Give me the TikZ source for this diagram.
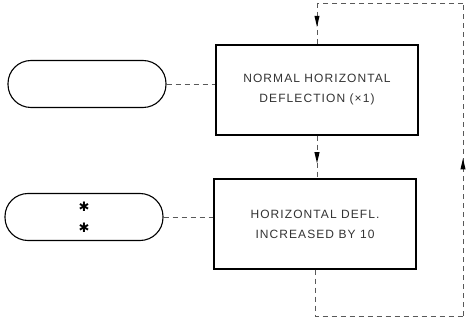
\documentclass[tikz,border=0pt]{standalone}
\usepackage{fontspec}
\newfontfamily\boxfont[LetterSpace=9]{Liberation Sans}
\newfontfamily\starfont{DejaVu Sans}
\usetikzlibrary{arrows.meta,decorations.markings}

\begin{document}
\begin{tikzpicture}[x=1pt,y=-1pt,
  modebox/.style={draw,line width=1.1pt,minimum width=202pt,minimum height=90pt,align=center,text=black!80,font=\boxfont\fontsize{12}{20}\selectfont},
  pill/.style={draw,line width=1.1pt,minimum width=158pt,minimum height=47pt,rounded corners=23pt,align=center,font=\starfont\fontsize{13}{21}\selectfont},
  link/.style={dashed,dash pattern=on 5pt off 4pt,line width=0.6pt,black!65},
  flow/.style={postaction={decorate},decoration={markings,mark=at position #1 with {\fill[black] (1pt,0pt) -- (-10pt,2.6pt) -- (-10pt,-2.6pt) -- cycle;}}}]
\useasboundingbox (0,0) rectangle (468,323);

\node[modebox] (normal) at (317,90) {NORMAL HORIZONTAL\\DEFLECTION (×1)};
\node[modebox] (times10) at (315,224) {HORIZONTAL DEFL.\\INCREASED BY 10};

\node[pill] (keyone) at (87,84) {};
\node[pill] (keytwo) at (84,217) {✱\\✱};

\coordinate (bl) at (times10.south |- 0,316);
\coordinate (br) at (463,316);
\coordinate (tr) at (463,3);
\coordinate (tl) at (normal.north |- 0,3);

\draw[link] (keyone.east) -- (keyone.east -| normal.west);
\draw[link] (keytwo.east) -- (keytwo.east -| times10.west);
\draw[link,flow=0.62] (normal.south) -- (normal.south |- times10.north);
\draw[link] (times10.south) -- (bl) -- (br);
\draw[link,flow=0.5] (br) -- (tr);
\draw[link] (tr) -- (tl);
\draw[link,flow=0.55] (tl) -- (normal.north);
\end{tikzpicture}
\end{document}
